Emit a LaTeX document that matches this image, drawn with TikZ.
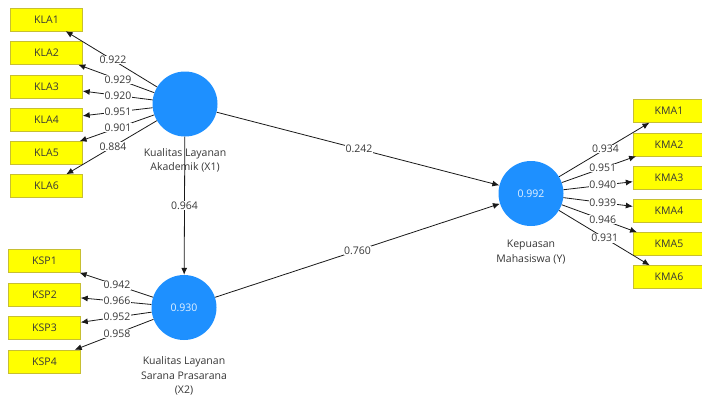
\documentclass[tikz,border=0pt]{standalone}
\usepackage{fontspec}
\setmainfont{Open Sans}
\usetikzlibrary{arrows.meta,calc}
\definecolor{lvblue}{RGB}{30,144,255}
\definecolor{boxyellow}{RGB}{255,255,0}
\definecolor{txt}{RGB}{55,55,55}
\begin{document}
\begin{tikzpicture}[x=1pt,y=-1pt,
 ind/.style={draw=yellow!75!black, line width=0.4pt, fill=boxyellow, minimum width=72pt, minimum height=23pt, inner sep=0pt, text=txt, font=\fontsize{10.5}{11}\selectfont},
 lv/.style={circle, fill=lvblue, minimum size=65pt, inner sep=0pt, text=white!88!lvblue, font=\fontsize{10.5}{11}\selectfont},
 lvcaption/.style={align=center, font=\fontsize{10.5}{14.5}\selectfont, text=txt},
 conn/.style={-{Latex[length=7pt,width=6pt]}, line width=0.8pt, draw=black!90},
 val/.style={fill=white, inner sep=0.5pt, font=\fontsize{10.5}{11}\selectfont, text=txt}]
\useasboundingbox (0,0) rectangle (702,397);
\fill[white] (0,0) rectangle (702,397);
% latent variables
\node[lv] (X1) at (185,104) {};
\node[lv] (X2) at (184,307.5) {0.930};
\node[lv] (Y) at (531,193.5) {0.992};
\node[lvcaption] (cX1) at (185,160.5) {Kualitas Layanan\\Akademik (X1)};
\node[lvcaption] (cX2) at (184,376) {Kualitas Layanan\\Sarana Prasarana\\(X2)};
\node[lvcaption] (cY) at (531,252) {Kepuasan\\Mahasiswa (Y)};
% indicators
\foreach \i/\y in {1/19.5,2/53,3/86.5,4/120,5/153,6/186}
  \node[ind] (KLA\i) at (46.5,\y) {KLA\i};
\foreach \i/\y in {1/261,2/294.5,3/327.5,4/361.5}
  \node[ind] (KSP\i) at (44.5,\y) {KSP\i};
\foreach \i/\y in {1/111,2/144.5,3/177.5,4/211,5/244,6/277}
  \node[ind] (KMA\i) at (669,\y) {KMA\i};
% outer loadings
\foreach \i/\v/\f in {1/0.922/0.52,2/0.929/0.484,3/0.920/0.484,4/0.951/0.484,5/0.901/0.484,6/0.884/0.52}{
  \draw[conn] (X1) -- (KLA\i);
  \node[val] (lKLA\i) at ($(X1.center)!\f!(KLA\i.center)$) {\v};
}
\foreach \i/\v in {1/0.942,2/0.966,3/0.952,4/0.958}{
  \draw[conn] (X2) -- (KSP\i);
  \node[val] (lKSP\i) at ($(X2.center)!0.48!(KSP\i.center)$) {\v};
}
\foreach \i/\v/\f in {1/0.934/0.54,2/0.951/0.52,3/0.940/0.52,4/0.939/0.52,5/0.946/0.52,6/0.931/0.535}{
  \draw[conn] (Y) -- (KMA\i);
  \node[val] (lKMA\i) at ($(Y.center)!\f!(KMA\i.center)$) {\v};
}
% structural paths
\draw[conn] (X1) -- (Y);
\node[val] (p1) at ($(X1.center)!0.503!(Y.center)$) {0.242};
\draw[conn] (X1) -- (X2);
\node[val] (p2) at ($(X1.center)!0.5!(X2.center)$) {0.964};
\draw[conn] (X2) -- (Y);
\node[val] (p3) at ($(X2.center)!0.5!(Y.center)$) {0.760};
\end{tikzpicture}
\end{document}
